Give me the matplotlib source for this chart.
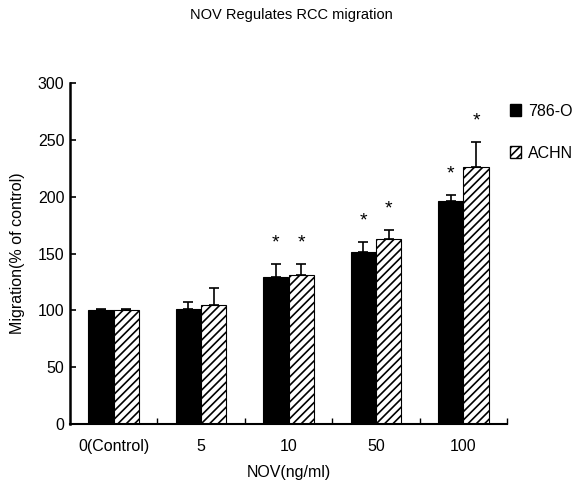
import numpy as np
import matplotlib.pyplot as plt
from matplotlib.patches import Patch

plt.rcParams.update({'font.family': ['Liberation Sans', 'DejaVu Sans'], 'font.size': 11.5})
plt.rcParams['hatch.linewidth'] = 1.2

# data
categories = ['0(Control)', '5', '10', '50', '100']
mean_786o = [100, 101.5, 129.5, 151, 196.5]
err_786o = [1, 6, 11, 9, 5]
mean_achn = [100, 104.5, 131, 163, 226]
err_achn = [1, 15, 10, 8, 22]
star_786o = [False, False, True, True, True]
star_achn = [False, False, True, True, True]
y_ticks = [0, 50, 100, 150, 200, 250, 300]

fig = plt.figure(figsize=(5.77, 4.86), dpi=100)
ax = fig.add_axes([0.1213, 0.1276, 0.7574, 0.7014])

x = np.arange(len(categories))
w = 0.29

ax.bar(x - w / 2, mean_786o, w, color='black', edgecolor='black', linewidth=0.8)
ax.bar(x + w / 2, mean_achn, w, color='white', edgecolor='black', linewidth=0.8, hatch='////')
ax.errorbar(x - w / 2, mean_786o, yerr=[np.zeros(5), err_786o], fmt='none',
            ecolor='black', elinewidth=1.2, capsize=3.5, capthick=1.2)
ax.errorbar(x + w / 2, mean_achn, yerr=[np.zeros(5), err_achn], fmt='none',
            ecolor='black', elinewidth=1.2, capsize=3.5, capthick=1.2)

# significance stars
for i in range(len(categories)):
    if star_786o[i]:
        ax.annotate('*', (x[i] - w / 2, mean_786o[i] + err_786o[i]), xytext=(0, 9),
                    textcoords='offset points', ha='center', va='bottom', fontsize=14)
    if star_achn[i]:
        ax.annotate('*', (x[i] + w / 2, mean_achn[i] + err_achn[i]), xytext=(0, 9),
                    textcoords='offset points', ha='center', va='bottom', fontsize=14)

ax.set_xlim(-0.5, len(categories) - 0.5)
ax.set_ylim(0, 300)
ax.set_yticks(y_ticks)
ax.tick_params(axis='y', direction='in', length=4, width=1.2, pad=4)
ax.set_xticks(x)
ax.set_xticklabels(categories)
ax.tick_params(axis='x', length=0, pad=11)
ax.set_xticks(np.arange(len(categories)) + 0.5, minor=True)
ax.tick_params(axis='x', which='minor', direction='in', length=4, width=1)

for s in ['top', 'right']:
    ax.spines[s].set_visible(False)
ax.spines['left'].set_linewidth(1.8)
ax.spines['bottom'].set_linewidth(1.5)

ax.set_xlabel('NOV(ng/ml)', labelpad=8)
ax.set_ylabel('Migration(% of control)', labelpad=9)
fig.text(0.505, 0.97, 'NOV Regulates RCC migration', ha='center', va='center', fontsize=10.5)

handles = [Patch(facecolor='black', edgecolor='black', label='786-O'),
           Patch(facecolor='white', edgecolor='black', hatch='////', label='ACHN')]
fig.legend(handles=handles, loc='upper left', bbox_to_anchor=(0.884, 0.787), frameon=False,
           borderpad=0, borderaxespad=0,
           handlelength=0.7, handleheight=0.7, handletextpad=0.45, labelspacing=1.7,
           fontsize=11.5)

fig.savefig('out.png', dpi=100)
